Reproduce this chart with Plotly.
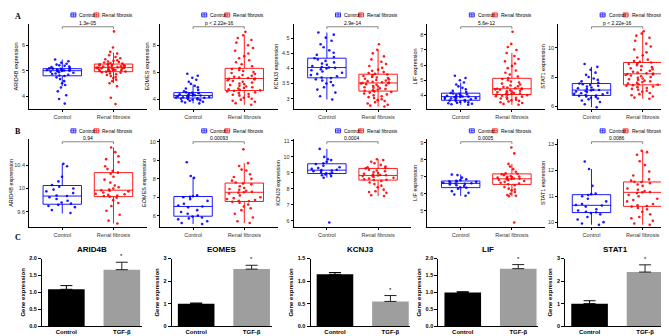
import plotly.graph_objects as go

W, H = 669, 336
FONT = "Liberation Sans, Arial, sans-serif"

genes = ["ARID4B", "EOMES", "KCNJ3", "LIF", "STAT1"]
groups = ["Control", "Renal fibrosis"]

# ---------------- Panel A (training cohort) : points ----------------
A_ARID4B_control = [5.45, 5.38, 5.32, 5.28, 5.25, 5.22, 5.2, 5.17, 5.15, 5.12, 5.1, 5.09, 5.08, 5.07, 5.06, 5.05, 5.04, 5.03, 5.02, 5.01, 5.0, 4.99, 4.97, 4.95, 4.93, 4.9, 4.88, 4.85, 4.82, 4.8, 4.75, 4.68, 4.6, 4.52, 4.45, 4.35, 4.2, 4.05, 3.9, 3.72]
A_ARID4B_fibrosis = [6.55, 5.92, 5.75, 5.68, 5.62, 5.55, 5.5, 5.46, 5.42, 5.4, 5.37, 5.35, 5.33, 5.31, 5.29, 5.27, 5.26, 5.25, 5.24, 5.23, 5.22, 5.2, 5.19, 5.18, 5.17, 5.16, 5.15, 5.14, 5.13, 5.13, 5.12, 5.11, 5.1, 5.09, 5.08, 5.07, 5.06, 5.05, 5.04, 5.03, 5.02, 5.01, 5.0, 4.99, 4.98, 4.97, 4.95, 4.93, 4.9, 4.87, 4.84, 4.8, 4.76, 4.72, 4.66, 4.6, 4.52, 4.4, 3.95, 3.7]
A_EOMES_control = [5.9, 5.75, 5.6, 5.45, 5.3, 5.15, 5.0, 4.9, 4.8, 4.7, 4.6, 4.52, 4.49, 4.46, 4.43, 4.4, 4.37, 4.34, 4.31, 4.29, 4.28, 4.25, 4.22, 4.2, 4.18, 4.16, 4.14, 4.12, 4.1, 4.08, 4.05, 4.02, 4.0, 3.97, 3.94, 3.9, 3.86, 3.82, 3.77, 3.7]
A_EOMES_fibrosis = [9.0, 8.75, 8.55, 8.4, 8.2, 8.0, 7.8, 7.6, 7.4, 7.2, 7.05, 6.9, 6.75, 6.6, 6.45, 6.32, 6.25, 6.18, 6.1, 6.02, 5.95, 5.88, 5.8, 5.74, 5.68, 5.62, 5.58, 5.55, 5.52, 5.48, 5.42, 5.36, 5.3, 5.24, 5.18, 5.12, 5.06, 5.0, 4.95, 4.9, 4.85, 4.8, 4.75, 4.7, 4.67, 4.63, 4.58, 4.52, 4.46, 4.4, 4.34, 4.28, 4.2, 4.12, 4.05, 3.98, 3.9, 3.82, 3.72, 3.6]
A_KCNJ3_control = [5.19, 5.12, 5.02, 4.92, 4.8, 4.7, 4.6, 4.52, 4.45, 4.38, 4.34, 4.3, 4.25, 4.2, 4.16, 4.12, 4.08, 4.05, 4.03, 4.02, 4.0, 3.97, 3.94, 3.9, 3.86, 3.82, 3.78, 3.74, 3.7, 3.68, 3.64, 3.6, 3.55, 3.5, 3.44, 3.38, 3.3, 3.2, 3.08, 2.97]
A_KCNJ3_fibrosis = [4.8, 4.62, 4.5, 4.4, 4.3, 4.22, 4.15, 4.08, 4.02, 3.96, 3.92, 3.88, 3.85, 3.82, 3.8, 3.78, 3.75, 3.72, 3.7, 3.68, 3.66, 3.64, 3.62, 3.6, 3.58, 3.56, 3.54, 3.53, 3.52, 3.51, 3.5, 3.48, 3.46, 3.44, 3.42, 3.4, 3.38, 3.36, 3.34, 3.32, 3.3, 3.28, 3.26, 3.24, 3.22, 3.2, 3.17, 3.14, 3.11, 3.08, 3.05, 3.02, 2.98, 2.95, 2.92, 2.88, 2.84, 2.8, 2.77, 2.74]
A_LIF_control = [5.3, 5.15, 5.0, 4.85, 4.72, 4.6, 4.5, 4.4, 4.3, 4.22, 4.16, 4.13, 4.1, 4.07, 4.04, 4.01, 3.98, 3.95, 3.93, 3.92, 3.9, 3.88, 3.86, 3.84, 3.82, 3.8, 3.78, 3.75, 3.72, 3.69, 3.66, 3.63, 3.6, 3.57, 3.54, 3.51, 3.48, 3.45, 3.42, 3.38]
A_LIF_fibrosis = [8.2, 7.4, 7.2, 7.0, 6.8, 6.6, 6.4, 6.25, 6.1, 5.95, 5.8, 5.65, 5.5, 5.38, 5.25, 5.15, 5.08, 5.0, 4.92, 4.85, 4.78, 4.72, 4.66, 4.6, 4.56, 4.52, 4.48, 4.46, 4.44, 4.42, 4.4, 4.37, 4.34, 4.31, 4.28, 4.25, 4.22, 4.19, 4.16, 4.13, 4.1, 4.08, 4.06, 4.04, 4.01, 3.98, 3.95, 3.92, 3.88, 3.84, 3.8, 3.76, 3.72, 3.68, 3.64, 3.6, 3.55, 3.5, 3.44, 3.38]
A_STAT1_control = [8.9, 8.7, 8.5, 8.3, 8.15, 8.0, 7.9, 7.8, 7.7, 7.6, 7.55, 7.5, 7.45, 7.4, 7.34, 7.28, 7.22, 7.17, 7.12, 7.1, 7.08, 7.04, 7.0, 6.96, 6.92, 6.88, 6.84, 6.8, 6.76, 6.73, 6.7, 6.66, 6.62, 6.57, 6.52, 6.46, 6.38, 6.28, 6.12, 5.92]
A_STAT1_fibrosis = [11.15, 11.0, 10.85, 10.7, 10.5, 10.3, 10.1, 9.9, 9.7, 9.5, 9.35, 9.2, 9.1, 9.05, 9.0, 8.95, 8.9, 8.82, 8.75, 8.68, 8.6, 8.54, 8.48, 8.42, 8.36, 8.3, 8.26, 8.23, 8.21, 8.18, 8.14, 8.1, 8.05, 8.0, 7.95, 7.9, 7.85, 7.8, 7.75, 7.7, 7.65, 7.6, 7.55, 7.5, 7.47, 7.44, 7.4, 7.35, 7.3, 7.24, 7.18, 7.12, 7.05, 6.98, 6.9, 6.82, 6.74, 6.66, 6.58, 6.5]

# box statistics A (per gene, in gene order)
A_ctrl_q1 = [4.81, 4.10, 3.69, 3.68, 6.73]
A_ctrl_med = [5.01, 4.29, 4.03, 3.92, 7.10]
A_ctrl_q3 = [5.09, 4.50, 4.34, 4.15, 7.55]
A_ctrl_lo = [4.40, 3.70, 2.97, 3.38, 5.92]
A_ctrl_hi = [5.45, 5.10, 5.19, 4.85, 8.70]
A_fib_q1 = [4.97, 4.65, 3.25, 4.06, 7.46]
A_fib_med = [5.13, 5.55, 3.52, 4.44, 8.22]
A_fib_q3 = [5.27, 6.30, 3.81, 5.13, 9.00]
A_fib_lo = [4.52, 3.60, 2.74, 3.38, 6.50]
A_fib_hi = [5.72, 8.75, 4.62, 6.80, 11.15]
A_pvals = ["1.3e-05", "p < 2.22e-16", "2.9e-14", "5.6e-12", "p < 2.22e-16"]
A_yrange = [(3.5, 6.85), (3.27, 9.6), (2.65, 5.48), (3.09, 8.73), (5.78, 11.67)]
A_ticks = [[4, 5, 6], [4, 6, 8], [3.0, 3.5, 4.0, 4.5, 5.0], [4, 5, 6, 7, 8], [6, 8, 10]]

# ---------------- Panel B (validation cohort) : points ----------------
B_ARID4B_control = [10.42, 10.38, 10.2, 10.12, 10.06, 10.03, 10.0, 9.98, 9.95, 9.92, 9.88, 9.87, 9.85, 9.82, 9.79, 9.76, 9.74, 9.72, 9.7, 9.68, 9.63, 9.58]
B_ARID4B_fibrosis = [10.7, 10.62, 10.55, 10.5, 10.45, 10.38, 10.33, 10.3, 10.27, 10.25, 10.2, 10.15, 10.1, 10.05, 10.02, 10.0, 9.98, 9.97, 9.96, 9.95, 9.93, 9.91, 9.9, 9.89, 9.88, 9.87, 9.86, 9.84, 9.8, 9.75, 9.7, 9.62, 9.55, 9.45, 9.4]
B_EOMES_control = [8.9, 8.15, 8.05, 7.1, 7.05, 7.02, 7.0, 6.9, 6.8, 6.65, 6.55, 6.5, 6.45, 6.3, 6.2, 6.1, 6.0, 5.95, 5.9, 5.85, 5.8, 5.7, 5.6, 5.55]
B_EOMES_fibrosis = [9.6, 8.85, 8.7, 8.5, 8.45, 8.25, 8.1, 8.0, 7.9, 7.8, 7.75, 7.7, 7.6, 7.5, 7.45, 7.4, 7.35, 7.3, 7.27, 7.25, 7.2, 7.1, 7.0, 6.95, 6.9, 6.85, 6.8, 6.78, 6.75, 6.7, 6.6, 6.5, 6.4, 6.3, 6.1, 5.9, 5.7, 5.6]
B_KCNJ3_control = [10.5, 10.0, 9.85, 9.8, 9.7, 9.6, 9.55, 9.45, 9.35, 9.3, 9.25, 9.2, 9.17, 9.15, 9.1, 9.05, 9.0, 8.97, 8.95, 8.9, 8.85, 8.8, 8.7, 5.9]
B_KCNJ3_fibrosis = [9.85, 9.8, 9.7, 9.6, 9.5, 9.4, 9.35, 9.3, 9.28, 9.2, 9.15, 9.1, 9.05, 9.0, 8.95, 8.9, 8.87, 8.85, 8.84, 8.82, 8.8, 8.75, 8.7, 8.65, 8.6, 8.57, 8.55, 8.5, 8.4, 8.3, 8.2, 8.1, 7.95, 7.85, 7.8, 7.75, 7.6, 7.55]
B_LIF_control = [7.13, 7.1, 6.95, 6.85, 6.8, 6.76, 6.74, 6.72, 6.7, 6.68, 6.65, 6.62, 6.6, 6.58, 6.55, 6.5, 6.45, 6.38, 6.35, 6.3, 6.15, 6.05, 5.95, 5.88]
B_LIF_fibrosis = [8.73, 8.38, 7.76, 7.6, 7.45, 7.3, 7.2, 7.18, 7.15, 7.1, 7.05, 7.02, 7.0, 6.98, 6.95, 6.92, 6.9, 6.88, 6.87, 6.85, 6.82, 6.8, 6.75, 6.7, 6.65, 6.6, 6.56, 6.5, 6.4, 6.3, 6.25, 6.2, 6.1, 6.0, 5.92, 5.88, 5.85, 4.3]
B_STAT1_control = [12.34, 12.05, 11.4, 11.1, 11.08, 11.05, 11.0, 10.9, 10.8, 10.7, 10.66, 10.64, 10.6, 10.5, 10.45, 10.4, 10.38, 10.35, 10.3, 10.2, 10.1, 10.0, 9.95, 9.9]
B_STAT1_fibrosis = [12.75, 12.7, 12.6, 12.35, 12.2, 11.95, 11.8, 11.65, 11.6, 11.56, 11.55, 11.5, 11.45, 11.4, 11.3, 11.25, 11.2, 11.16, 11.15, 11.12, 11.05, 11.0, 10.9, 10.85, 10.8, 10.7, 10.65, 10.62, 10.6, 10.55, 10.5, 10.4, 10.3, 10.2, 10.15, 10.05, 9.95, 9.9]

B_ctrl_q1 = [9.73, 5.97, 8.96, 6.36, 10.37]
B_ctrl_med = [9.87, 6.50, 9.17, 6.61, 10.65]
B_ctrl_q3 = [10.05, 7.04, 9.57, 6.75, 11.06]
B_ctrl_lo = [9.57, 5.55, 8.70, 5.87, 9.90]
B_ctrl_hi = [10.42, 8.10, 10.50, 7.13, 12.05]
B_fib_q1 = [9.86, 6.77, 8.55, 6.55, 10.61]
B_fib_med = [9.97, 7.27, 8.84, 6.88, 11.15]
B_fib_q3 = [10.27, 7.77, 9.28, 7.17, 11.55]
B_fib_lo = [9.40, 5.60, 7.55, 5.85, 9.90]
B_fib_hi = [10.70, 8.85, 9.85, 7.76, 12.75]
B_pvals = ["0.94", "0.00093", "0.0004", "0.0005", "0.0086"]
B_yrange = [(9.34, 10.85), (5.38, 10.18), (5.61, 11.14), (4.03, 9.25), (9.81, 13.22)]
B_ticks = [[9.6, 10.0, 10.4], [6, 7, 8, 9, 10], [6, 7, 8, 9, 10, 11], [5, 6, 7, 8, 9], [10, 11, 12, 13]]

# ---------------- Panel C (qPCR) ----------------
C_groups = ["Control", "TGF-β"]
C_control_mean = [1.09, 1.00, 1.15, 1.00, 1.00]
C_control_err = [0.11, 0.03, 0.04, 0.02, 0.13]
C_tgf_mean = [1.67, 2.53, 0.55, 1.70, 2.40]
C_tgf_err = [0.22, 0.17, 0.13, 0.12, 0.32]
C_ymax = [2.0, 3.0, 1.5, 2.0, 3.0]
C_dtick = [0.5, 1.0, 0.5, 0.5, 1.0]
C_tickfmt = [".1f", "d", ".1f", ".1f", "d"]

A_points = [(A_ARID4B_control, A_ARID4B_fibrosis), (A_EOMES_control, A_EOMES_fibrosis),
            (A_KCNJ3_control, A_KCNJ3_fibrosis), (A_LIF_control, A_LIF_fibrosis),
            (A_STAT1_control, A_STAT1_fibrosis)]
B_points = [(B_ARID4B_control, B_ARID4B_fibrosis), (B_EOMES_control, B_EOMES_fibrosis),
            (B_KCNJ3_control, B_KCNJ3_fibrosis), (B_LIF_control, B_LIF_fibrosis),
            (B_STAT1_control, B_STAT1_fibrosis)]

# ---------------- layout geometry (pixels) ----------------
PX = [(20, 138), (151, 269), (285, 403), (419, 537), (550, 668)]
A_Y = (13, 100)
B_Y = (130, 220)
CX = [33, 163, 302, 430, 557]
C_W = 100
C_Y = (252, 321)

BLUE = "#0000FF"
RED = "#FF0000"
COLS = [BLUE, RED]


def xd(a, b):
    return [a / W, b / W]


def yd(top, bot):
    return [1 - bot / H, 1 - top / H]


def axn(k):
    s = "" if k == 1 else str(k)
    return f"x{s}", f"y{s}", f"xaxis{s}", f"yaxis{s}"


fig = go.Figure()
layout = dict(width=W, height=H, margin=dict(l=0, r=0, t=0, b=0), autosize=False,
              paper_bgcolor="white", plot_bgcolor="white", showlegend=False,
              boxmode="overlay", barmode="overlay", font=dict(family=FONT, color="black"))
shapes, annots = [], []


def add_legend(cx, cy):
    items = [(-26, BLUE, "Control"), (-3, RED, "Renal fibrosis")]
    for dx, col, lab in items:
        x0 = cx + dx
        shapes.append(dict(type="rect", xref="paper", yref="paper",
                           x0=x0 / W, x1=(x0 + 5) / W, y0=1 - (cy + 2) / H, y1=1 - (cy - 2) / H,
                           line=dict(color=col, width=0.8), fillcolor="white"))
        shapes.append(dict(type="line", xref="paper", yref="paper",
                           x0=x0 / W, x1=(x0 + 5) / W, y0=1 - cy / H, y1=1 - cy / H,
                           line=dict(color=col, width=0.8)))
        shapes.append(dict(type="line", xref="paper", yref="paper",
                           x0=(x0 + 2.5) / W, x1=(x0 + 2.5) / W, y0=1 - (cy + 2) / H, y1=1 - (cy - 2) / H,
                           line=dict(color=col, width=0.6)))
        annots.append(dict(xref="paper", yref="paper", x=(x0 + 6.5) / W, y=1 - cy / H,
                           xanchor="left", yanchor="middle", showarrow=False, text=lab,
                           font=dict(size=5, family=FONT, color="black")))


k = 0
for row, (pts_all, q1c, mc, q3c, loc, hic, q1f, mf, q3f, lof, hif, pv, yr, tk, YY) in enumerate([
        (A_points, A_ctrl_q1, A_ctrl_med, A_ctrl_q3, A_ctrl_lo, A_ctrl_hi,
         A_fib_q1, A_fib_med, A_fib_q3, A_fib_lo, A_fib_hi, A_pvals, A_yrange, A_ticks, A_Y),
        (B_points, B_ctrl_q1, B_ctrl_med, B_ctrl_q3, B_ctrl_lo, B_ctrl_hi,
         B_fib_q1, B_fib_med, B_fib_q3, B_fib_lo, B_fib_hi, B_pvals, B_yrange, B_ticks, B_Y)]):
    for i, g in enumerate(genes):
        k += 1
        xa, ya, xk, yk = axn(k)
        stats = [(q1c[i], mc[i], q3c[i], loc[i], hic[i]), (q1f[i], mf[i], q3f[i], lof[i], hif[i])]
        for j in range(2):
            q1, md, q3, lo, hi = stats[j]
            fig.add_trace(go.Box(x=[j], q1=[q1], median=[md], q3=[q3], lowerfence=[lo], upperfence=[hi],
                                 width=0.75, whiskerwidth=0, boxpoints=False,
                                 line=dict(color=COLS[j], width=0.9), fillcolor="rgba(255,255,255,0)",
                                 xaxis=xa, yaxis=ya, name=groups[j], hoverinfo="skip"))
            vals = pts_all[i][j]
            fig.add_trace(go.Box(x=[j] * len(vals), y=vals, width=0.75, boxpoints="all", jitter=0.95,
                                 pointpos=0, line=dict(width=0, color="rgba(0,0,0,0)"),
                                 fillcolor="rgba(0,0,0,0)",
                                 marker=dict(color=COLS[j], size=2.6, opacity=0.9),
                                 xaxis=xa, yaxis=ya, name=groups[j], hoverinfo="skip"))
        x0p, x1p = PX[i]
        layout[xk] = dict(domain=xd(x0p, x1p), anchor=ya, range=[-0.65, 1.65],
                          tickvals=[0, 1], ticktext=groups, showline=True, linecolor="black",
                          linewidth=0.8, ticks="outside", ticklen=2, tickcolor="black",
                          tickfont=dict(size=5.5, family=FONT, color="#333333"),
                          showgrid=False, zeroline=False, fixedrange=True)
        layout[yk] = dict(domain=yd(*YY), anchor=xa, range=list(yr[i]), tickvals=tk[i],
                          showline=True, linecolor="black", linewidth=0.8, ticks="outside",
                          ticklen=2, tickcolor="black",
                          tickfont=dict(size=5.5, family=FONT, color="#333333"),
                          title=dict(text=f"{g} expression", font=dict(size=5.5, family=FONT),
                                     standoff=2),
                          showgrid=False, zeroline=False, fixedrange=True)
        # significance bracket
        yb, yt = 0.94, 0.965
        for (sx0, sx1, sy0, sy1) in [(0, 0, yb, yt), (0, 1, yt, yt), (1, 1, yt, yb)]:
            shapes.append(dict(type="line", xref=xa, yref=f"{ya} domain", x0=sx0, x1=sx1, y0=sy0, y1=sy1,
                               line=dict(color="#555555", width=0.7)))
        annots.append(dict(xref=xa, yref=f"{ya} domain", x=0.5, y=yt, yanchor="bottom", showarrow=False,
                           text=pv[i], font=dict(size=5, family=FONT, color="black"), yshift=-1))
        add_legend((x0p + x1p) / 2 + 9, YY[0] - 9 if row == 0 else YY[0] - 8)

# ---------------- bar charts C ----------------
for i, g in enumerate(genes):
    k += 1
    xa, ya, xk, yk = axn(k)
    fig.add_trace(go.Bar(x=[0], y=[C_control_mean[i]], width=0.66, marker=dict(color="black", line=dict(width=0)),
                         error_y=dict(type="data", array=[C_control_err[i]], arrayminus=[0], symmetric=False,
                                      color="black", thickness=1, width=6),
                         xaxis=xa, yaxis=ya, hoverinfo="skip"))
    fig.add_trace(go.Bar(x=[1], y=[C_tgf_mean[i]], width=0.66, marker=dict(color="#9e9e9e", line=dict(width=0)),
                         error_y=dict(type="data", array=[C_tgf_err[i]], arrayminus=[0], symmetric=False,
                                      color="#222222", thickness=1, width=6),
                         xaxis=xa, yaxis=ya, hoverinfo="skip"))
    annots.append(dict(xref=xa, yref=ya, x=1, y=C_tgf_mean[i] + C_tgf_err[i], yanchor="bottom",
                       showarrow=False, text="*", font=dict(size=6, family=FONT), yshift=1))
    ax0 = CX[i]
    layout[xk] = dict(domain=xd(ax0, ax0 + C_W), anchor=ya, range=[-0.44, 1.36],
                      tickvals=[0, 1], ticktext=C_groups, showline=True, linecolor="black",
                      linewidth=1, ticks="", showgrid=False, zeroline=False,
                      tickfont=dict(size=6, family=FONT, weight="bold"), fixedrange=True)
    layout[yk] = dict(domain=yd(*C_Y), anchor=xa, range=[0, C_ymax[i]], dtick=C_dtick[i],
                      tick0=0, tickformat=C_tickfmt[i],
                      showline=True, linecolor="black", linewidth=1, ticks="outside", ticklen=3,
                      tickcolor="black", tickfont=dict(size=5.5, family=FONT, weight="bold"),
                      title=dict(text="Gene expression", font=dict(size=6, family=FONT, weight="bold"),
                                 standoff=3),
                      showgrid=False, zeroline=False, fixedrange=True)
    annots.append(dict(xref=f"{xa} domain", yref="paper", x=0.5, y=1 - 243 / H, yanchor="middle", showarrow=False,
                       text=f"<b>{g}</b>", font=dict(size=8, family=FONT)))

# panel letters
for lab, px, py in [("A", 4, 6), ("B", 4, 123), ("C", 4, 231)]:
    annots.append(dict(xref="paper", yref="paper", x=px / W, y=1 - py / H, xanchor="left", yanchor="middle",
                       showarrow=False, text=f"<b>{lab}</b>",
                       font=dict(size=8, family="Liberation Serif, Times New Roman, serif")))

layout["shapes"] = shapes
layout["annotations"] = annots
fig.update_layout(**layout)
fig.write_html("out.html")
